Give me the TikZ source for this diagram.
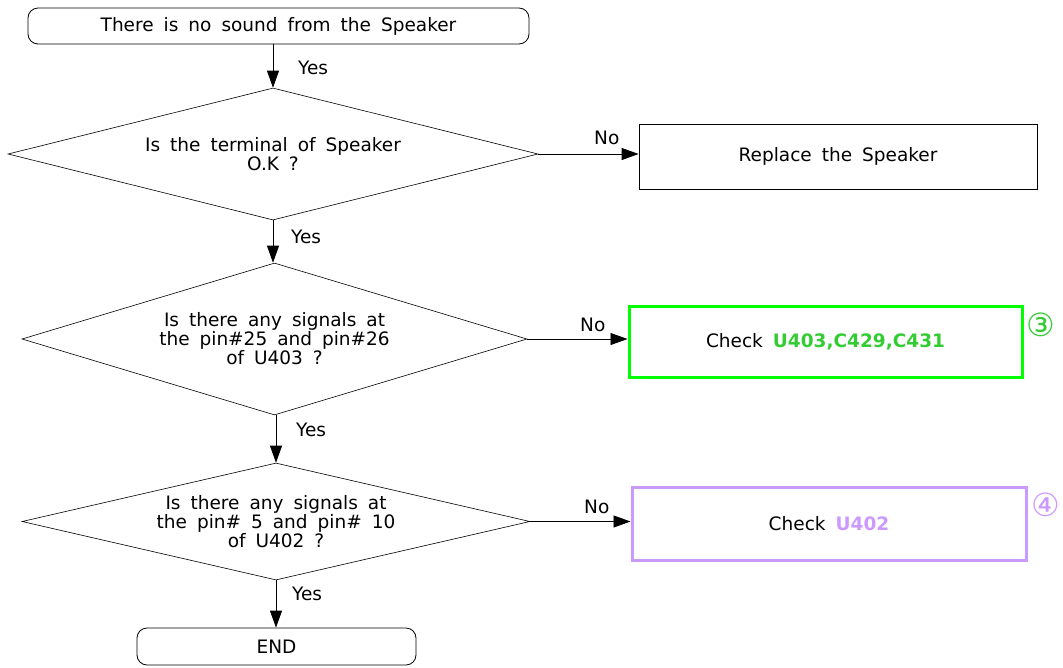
\documentclass[tikz,border=0pt]{standalone}
\usepackage{fontspec}
\setmainfont{DejaVu Sans}[WordSpace=1.7]
\usetikzlibrary{shapes.geometric,arrows.meta}
\definecolor{gbox}{HTML}{00FF00}
\definecolor{gtxt}{HTML}{33CC33}
\definecolor{pbox}{HTML}{CC99FF}
\begin{document}
\begin{tikzpicture}[x=1pt,y=-1pt,
  every node/.style={font=\fontsize{18.5}{19}\selectfont, inner sep=0pt, text=black},
  term/.style={draw, rounded corners=10pt, line width=0.8pt},
  dec/.style={draw, diamond, line width=0.6pt, align=center},
  proc/.style={draw, rectangle, line width=0.8pt},
  conn/.style={line width=0.8pt, -{Triangle[length=17pt,width=12pt]}},
  lbl/.style={anchor=west},
  circ/.style={font=\fontsize{32}{32}\selectfont}
]
\useasboundingbox (0,0) rectangle (1063,667);
\node[term, minimum width=501pt, minimum height=36pt] (start) at (278.5,26) {There is no sound from the Speaker};
\node[dec, aspect=4.015, minimum width=530pt, minimum height=132pt] (d1) at (273,154) {Is the terminal of Speaker\\O.K ?};
\node[proc, minimum width=398pt, minimum height=65pt] (r1) at (838,156.5) {Replace the Speaker};
\node[dec, aspect=3.32, minimum width=505pt, minimum height=152pt] (d2) at (274.5,339) {Is there any signals at\\the pin\#25 and pin\#26\\of U403 ?};
\node[proc, draw=gbox, line width=3pt, minimum width=393pt, minimum height=71pt] (r2) at (825.5,341.5) {Check \textcolor{gtxt}{\bfseries U403,C429,C431}};
\node[circ, text=gtxt] (n3) at (1041,325) {③};
\node[dec, aspect=4.34, minimum width=508pt, minimum height=117pt] (d3) at (276,521.5) {Is there any signals at\\the pin\# 5 and pin\# 10\\of U402 ?};
\node[proc, draw=pbox, line width=3pt, minimum width=394pt, minimum height=73pt] (r3) at (829,523.5) {Check \textcolor{pbox}{\bfseries U402}};
\node[circ, text=pbox] (n4) at (1046,505) {④};
\node[term, minimum width=279pt, minimum height=37pt] (end) at (276.5,646.5) {END};
\draw[conn] (start.south -| d1.north) -- (d1.north);
\draw[conn] (d1.east) -- (d1.east -| r1.west);
\draw[conn] (d1.south) -- (d2.north -| d1.south);
\draw[conn] (d2.east) -- (d2.east -| r2.west);
\draw[conn] (d2.south -| d3.north) -- (d3.north);
\draw[conn] (d3.east) -- (d3.east -| r3.west);
\draw[conn] (d3.south) -- (end.north -| d3.south);
\node[lbl] (y1) at (298,68) {Yes};
\node[lbl] (y2) at (291,237) {Yes};
\node[lbl] (y3) at (296,430) {Yes};
\node[lbl] (y4) at (292,594) {Yes};
\node[lbl] (no1) at (594,138) {No};
\node[lbl] (no2) at (580,325) {No};
\node[lbl] (no3) at (584,507) {No};
\end{tikzpicture}
\end{document}
